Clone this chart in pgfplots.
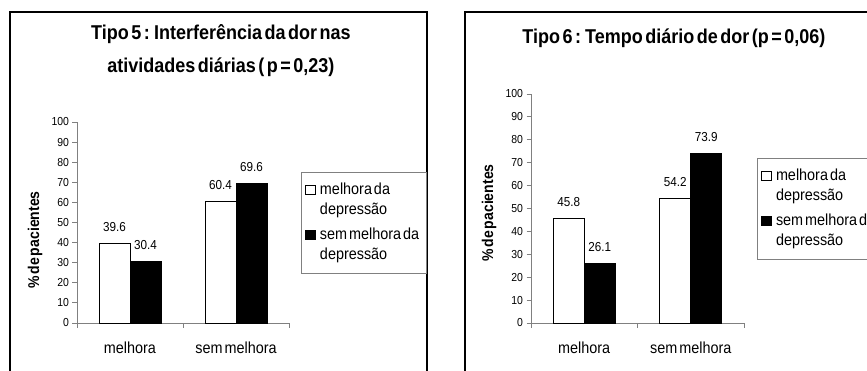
\documentclass[border=0pt]{standalone}
\usepackage{fontspec}
\setmainfont{Liberation Sans}[FakeStretch=0.9, WordSpace=0.5]
\usepackage{pgfplots}
\pgfplotsset{compat=1.18}
\pgfplotsset{
  sqlegend/.style={legend image code/.code={\draw[##1] (0bp,0bp) rectangle (9.5bp,9.5bp);}},
  excel/.style={
    scale only axis, clip=false,
    ybar, bar width=31bp,
    ymin=0, ymax=100, ytick={0,10,...,100},
    xmin=0.5, xmax=2.5,
    xtick={0.5,1.5,2.5}, xticklabels={},
    extra x ticks={1,2}, extra x tick labels={melhora,sem melhora},
    extra x tick style={tick style={draw=none}},
    axis x line*=bottom, axis y line*=left,
    axis line style={-, draw=gray, line width=0.8bp},
    tick style={draw=gray, line width=0.8bp},
    major tick length=4.5bp, tick align=outside,
    /pgf/number format/assume math mode=true,
    /pgf/number format/.cd, fixed, fixed zerofill, precision=1, /pgfplots/.cd,
    yticklabel style={font=\fontsize{11.6bp}{12bp}\selectfont, /pgf/number format/precision=0, /pgf/number format/fixed zerofill=false},
    xticklabel style={font=\fontsize{16bp}{18bp}\selectfont, anchor=center, yshift=-20bp},
    ylabel={\% de pacientes},
    ylabel style={font=\bfseries\fontsize{15.6bp}{17bp}\selectfont, anchor=center},
    title style={font=\bfseries\fontsize{20bp}{28bp}\selectfont, anchor=base, align=center},
    nodes near coords,
    every node near coord/.append style={font=\fontsize{13bp}{14bp}\selectfont, anchor=base, yshift=12bp, inner sep=0pt},
    legend cell align=left,
    legend style={draw=gray, line width=0.8bp, fill=white, anchor=north west,
      font=\fontsize{16bp}{18bp}\selectfont,
      inner xsep=4bp, inner ysep=8bp,
      nodes={inner xsep=3bp, inner ysep=3bp, text height=11bp, text depth=3bp, anchor=base west, line width=0.4pt},
      /tikz/every odd column/.append style={column sep=1.5bp},
      row sep=0bp, cells={anchor=base west}},
  }
}
\begin{document}
\begin{tikzpicture}[x=1bp,y=1bp]
\useasboundingbox (0bp,0bp) rectangle (867bp,371bp);
\clip (0bp,0bp) rectangle (867bp,371bp);
\draw[line width=1.3bp] (10bp,-5bp) -- (10bp,359bp) -- (427bp,359bp) -- (427bp,-5bp);
\draw[line width=1.6bp] (465bp,-5bp) -- (465bp,359bp) -- (880bp,359bp);

\begin{axis}[excel,
  at={(77bp,48bp)}, anchor=south west,
  width=212bp, height=201bp,
  title={Tipo 5 : Interferência da dor nas},
  title style={at={(rel axis cs:0.679,1.383)}},
  ylabel style={at={(rel axis cs:-0.198,0.413)}},
  legend style={at={(rel axis cs:1.0566,0.7512)}},
]
\addplot[fill=white, draw=black, line width=0.8bp, bar shift=-15.5bp, forget plot] coordinates {(1,39.6) (2,60.4)};
\addplot[fill=black, draw=black, line width=0.8bp, bar shift=15.5bp, forget plot] coordinates {(1,30.4) (2,69.6)};
\addlegendimage{sqlegend, fill=white, draw=black, line width=0.6bp}
\addlegendentry{melhora da}
\addlegendimage{empty legend}
\addlegendentry[text depth=8bp]{depressão}
\addlegendimage{sqlegend, fill=black, draw=black, line width=0.6bp}
\addlegendentry{sem melhora da}
\addlegendimage{empty legend}
\addlegendentry{depressão}
\node[font=\bfseries\fontsize{20bp}{28bp}\selectfont, anchor=base] at (rel axis cs:0.679,1.244) {atividades diárias ( p = 0,23)};
\end{axis}

\begin{axis}[excel,
  at={(531bp,48bp)}, anchor=south west,
  width=213bp, height=229bp,
  title={Tipo 6 : Tempo diário de dor (p = 0,06)},
  title style={at={(rel axis cs:0.671,1.196)}},
  ylabel style={at={(rel axis cs:-0.197,0.48)}},
  legend style={at={(rel axis cs:1.061,0.7205)}},
]
\addplot[fill=white, draw=black, line width=0.8bp, bar shift=-15.5bp, forget plot] coordinates {(1,45.8) (2,54.2)};
\addplot[fill=black, draw=black, line width=0.8bp, bar shift=15.5bp, forget plot] coordinates {(1,26.1) (2,73.9)};
\addlegendimage{sqlegend, fill=white, draw=black, line width=0.6bp}
\addlegendentry{melhora da}
\addlegendimage{empty legend}
\addlegendentry[text depth=8bp]{depressão}
\addlegendimage{sqlegend, fill=black, draw=black, line width=0.6bp}
\addlegendentry{sem melhora da}
\addlegendimage{empty legend}
\addlegendentry{depressão}
\end{axis}
\end{tikzpicture}
\end{document}
